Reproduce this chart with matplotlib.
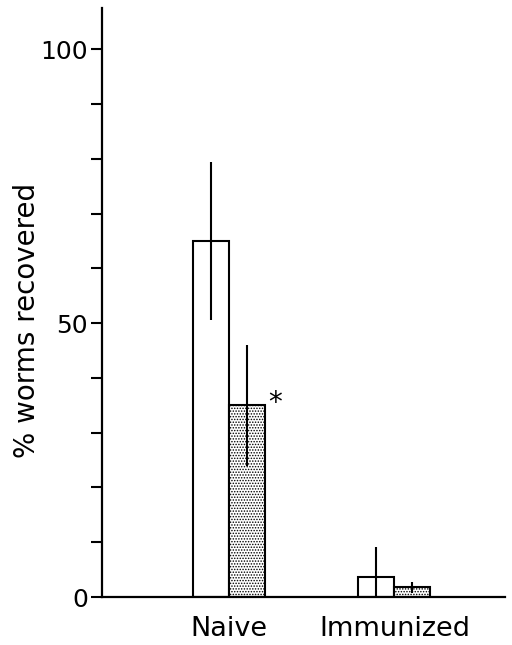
import numpy as np
import matplotlib
matplotlib.use("Agg")
import matplotlib.pyplot as plt

# data
groups = ["Naive", "Immunized"]
control_mean = [65, 3.6]
control_err = [14.5, 5.5]
treated_mean = [35, 1.8]
treated_err = [11, 1.0]
significant = [True, False]

plt.rcParams["font.family"] = ["DejaVu Sans"]
plt.rcParams["hatch.linewidth"] = 0.7

fig = plt.figure(figsize=(5.12, 6.45), dpi=100)
ax = fig.add_axes([0.199, 0.0744, 0.787, 0.913])

centers = np.array([0.0, 4.6])
w = 1.0

ax.bar(centers - w / 2, control_mean, width=w, color="white",
       edgecolor="black", linewidth=1.5, zorder=2)
ax.bar(centers + w / 2, treated_mean, width=w, color="white",
       edgecolor="black", linewidth=1.5, hatch="......", zorder=2)
ax.errorbar(centers - w / 2, control_mean, yerr=control_err, fmt="none",
            ecolor="black", elinewidth=1.5, capsize=0, zorder=3)
ax.errorbar(centers + w / 2, treated_mean, yerr=treated_err, fmt="none",
            ecolor="black", elinewidth=1.5, capsize=0, zorder=3)

for c, m, s in zip(centers, treated_mean, significant):
    if s:
        ax.text(c + w + 0.28, m + 0.5, "*", fontsize=20, ha="center",
                va="center")

ax.set_xlim(-3.53, 7.67)
ax.set_ylim(0, 107.5)
ax.set_xticks(centers)
ax.set_xticklabels(groups, fontsize=19.5)
ax.tick_params(axis="x", length=0, pad=14)

ax.set_yticks([0, 50, 100])
ax.set_yticks(np.arange(0, 101, 10), minor=True)
ax.tick_params(axis="y", which="both", direction="out", length=8,
               width=1.5, labelsize=18, pad=2)
ax.set_ylabel("% worms recovered", fontsize=20)
ax.yaxis.set_label_coords(-0.15, 0.47)

for side in ["top", "right"]:
    ax.spines[side].set_visible(False)
for side in ["left", "bottom"]:
    ax.spines[side].set_linewidth(1.6)

fig.savefig("out.png", dpi=100)
